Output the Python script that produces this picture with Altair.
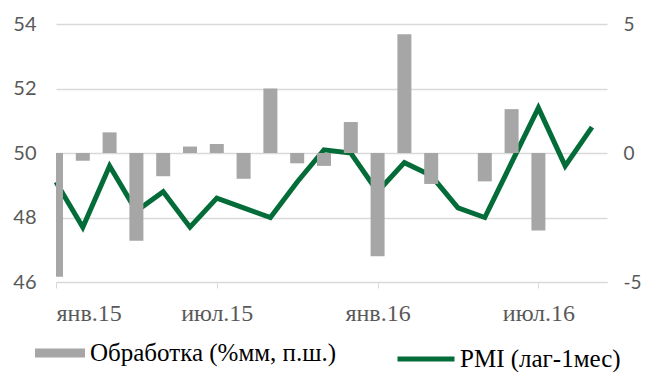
import altair as alt
import pandas as pd

months = list(range(21))  # янв.15 ... сен.16
pmi = [49.1, 47.7, 49.6, 48.2, 48.8, 47.7, 48.6, 48.3, 48.0, 49.1, 50.1, 50.0,
       48.8, 49.7, 49.3, 48.3, 48.0, 49.7, 51.4, 49.6, 50.8]
proc = [-4.8, -0.3, 0.8, -3.4, -0.9, 0.25, 0.35, -1.0, 2.5, -0.4, -0.5, 1.2,
        -4.0, 4.6, -1.2, None, -1.1, 1.7, -3.0, None, None]
tick_pos = [0, 6, 12, 18]
tick_labels = ["янв.15", "июл.15", "янв.16", "июл.16"]
bar_name = "Обработка (%мм, п.ш.)"
line_name = "PMI (лаг-1мес)"

df = pd.DataFrame({"m": months, "pmi": pmi, "proc": proc})
df["s1"] = bar_name
df["s2"] = line_name

SERIF = "Liberation Serif"
SANS = "Lato"
TXT = "#595959"
GRID = "#D9D9D9"
GRAY = "#A6A6A6"
GREEN = "#046C38"

label_expr = "[" + ",".join("'%s'" % t for t in tick_labels) + "][datum.value/6]"

x = alt.X("m:Q", scale=alt.Scale(domain=[0, 20.56], nice=False, zero=False, padding=0),
          axis=alt.Axis(values=tick_pos, labelExpr=label_expr, title=None,
                        grid=False, domainColor=GRID, tickColor=GRID, tickSize=6,
                        labelFont=SERIF, labelFontSize=24, labelColor=TXT,
                        labelPadding=13))

bars = alt.Chart(df).mark_bar(size=14, clip=True).encode(
    x=x,
    y=alt.Y("proc:Q", scale=alt.Scale(domain=[-5, 5], nice=False),
            axis=alt.Axis(orient="right", values=[-5, 0, 5], grid=False,
                          domain=False, ticks=False, title=None,
                          labelExpr="datum.value < 0 ? '-' + abs(datum.value) : '' + datum.value",
                          labelFont=SANS, labelFontSize=19, labelColor=TXT,
                          labelPadding=16)),
    fill=alt.Fill("s1:N", scale=alt.Scale(domain=[bar_name], range=[GRAY]),
                  legend=alt.Legend(title=None, orient="none", legendX=-21, legendY=304,
                                    symbolType="M-1,-0.18H1V0.18H-1Z", symbolSize=2500,
                                    symbolStrokeWidth=0, labelFont=SERIF,
                                    labelFontSize=25, labelColor="#000000",
                                    labelOffset=5, labelLimit=500, padding=0)),
)

line = alt.Chart(df).mark_line(strokeWidth=5).encode(
    x=x,
    y=alt.Y("pmi:Q", scale=alt.Scale(domain=[46, 54], nice=False, zero=False),
            axis=alt.Axis(orient="left", values=[46, 48, 50, 52, 54], grid=True,
                          gridColor=GRID, gridWidth=1.3, domain=False, ticks=False,
                          title=None, labelFont=SANS, labelFontSize=20,
                          labelColor=TXT, labelPadding=20)),
    stroke=alt.Stroke("s2:N", scale=alt.Scale(domain=[line_name], range=[GREEN]),
                      legend=alt.Legend(title=None, orient="none", legendX=339, legendY=304,
                                        symbolType="stroke", symbolSize=3249,
                                        symbolStrokeWidth=5, labelFont=SERIF,
                                        labelFontSize=25, labelColor="#000000",
                                        labelOffset=3, labelLimit=500, padding=0)),
)

chart = alt.layer(line, bars).resolve_scale(y="independent").properties(
    width=551, height=258,
    autosize=alt.AutoSizeParams(type="none"),
    padding={"left": 48, "top": 16, "right": 34, "bottom": 90},
).configure_view(stroke=None)

chart.save("out.html", embed_options={"renderer": "svg", "actions": False})
